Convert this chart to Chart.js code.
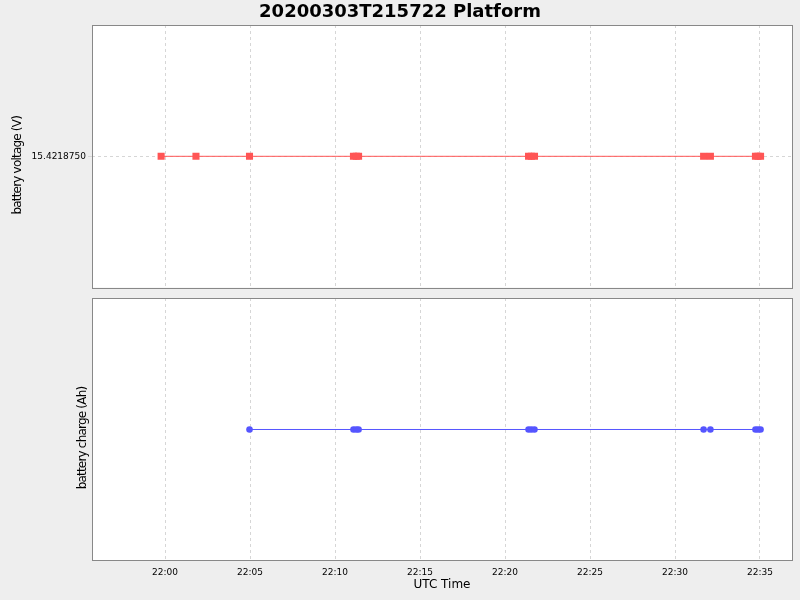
<!DOCTYPE html>
<html>
<head>
<meta charset="utf-8">
<script src="https://cdn.jsdelivr.net/npm/chart.js@4.4.0/dist/chart.umd.min.js"></script>
<style>
  body { margin: 0; background: #eeeeee; }
  #wrap { position: relative; width: 800px; height: 600px; background: #eeeeee; }
  #title { position: absolute; left: 0; top: 0; width: 800px; height: 25px; line-height: 25px;
           text-align: center; font: bold 18px "DejaVu Sans", sans-serif; color: #000; }
  canvas { position: absolute; left: 0; }
  #voltChart { top: 0; }
  #chargeChart { top: 290px; }
</style>
</head>
<body>
<div id="wrap">
  <canvas id="voltChart" width="800" height="295"></canvas>
  <canvas id="chargeChart" width="800" height="310"></canvas>
  <div id="title">20200303T215722 Platform</div>
</div>
<script>
// data (times are UTC, 2020-03-03)
var voltageTimes = ['21:59:46','22:01:49','22:04:58','22:11:05','22:11:15','22:11:23',
                    '22:21:23','22:21:33','22:21:44','22:31:41','22:32:05',
                    '22:34:44','22:34:53','22:35:02'];
var voltageValues = [15.421875,15.421875,15.421875,15.421875,15.421875,15.421875,
                     15.421875,15.421875,15.421875,15.421875,15.421875,
                     15.421875,15.421875,15.421875];
var chargeTimes = ['22:04:58','22:11:05','22:11:15','22:11:23',
                   '22:21:23','22:21:33','22:21:44','22:31:41','22:32:05',
                   '22:34:44','22:34:53','22:35:02'];
var chargeValues = [0,0,0,0,0,0,0,0,0,0,0,0];
var xTickLabels = ['22:00','22:05','22:10','22:15','22:20','22:25','22:30','22:35'];
var voltTickValues = [15.421875];
var xStart = '21:55:42';
var xEnd = '22:36:53';

// minutes relative to 22:00
function toMin(s){
    var p = s.split(':');
    return (Number(p[0]) - 22) * 60 + Number(p[1]) + (p.length > 2 ? Number(p[2]) / 60 : 0);
}
function toPoints(times, values){
    var pts = [];
    for (var i = 0; i < times.length; i++) {
        pts.push({x: toMin(times[i]), y: values[i]});
    }
    return pts;
}
function minToLabel(m){
    for (var i = 0; i < xTickLabels.length; i++) {
        if (Math.abs(toMin(xTickLabels[i]) - m) < 1e-6) return xTickLabels[i];
    }
    return '';
}

var FONT = '"DejaVu Sans", sans-serif';
var GRID = '#d6d6d6';

var plotFrame = {
    id: 'plotFrame',
    beforeDraw: function(chart){
        var a = chart.chartArea, ctx = chart.ctx;
        ctx.save();
        ctx.fillStyle = '#ffffff';
        ctx.fillRect(a.left, a.top, a.right - a.left, a.bottom - a.top);
        ctx.restore();
    },
    afterDraw: function(chart){
        var a = chart.chartArea, ctx = chart.ctx;
        var l = Math.round(a.left), t = Math.round(a.top);
        var r = Math.round(a.right), b = Math.round(a.bottom);
        ctx.save();
        ctx.strokeStyle = '#888888';
        ctx.lineWidth = 1;
        ctx.strokeRect(l + 0.5, t + 0.5, r - l, b - t);
        ctx.restore();
    }
};

// the java-ish rotated axis title sits a bit lower and tighter than chart.js puts it
function shiftTitle(scale){
    scale.width = 92;
    if (!scale._shifted) {
        var orig = scale.drawTitle;
        scale.drawTitle = function(){
            var ctx = this.ctx;
            ctx.save();
            ctx.translate(0, 9);
            ctx.letterSpacing = '-0.8px';
            orig.apply(this, arguments);
            ctx.restore();
        };
        scale._shifted = true;
    }
}

function xAxis(showLabels){
    return {
        type: 'linear',
        min: toMin(xStart),
        max: toMin(xEnd),
        afterBuildTicks: function(scale){
            scale.ticks = xTickLabels.map(function(t){ return {value: toMin(t)}; });
        },
        afterFit: function(scale){ scale.height = showLabels ? 40 : 0; },
        grid: {color: GRID, drawTicks: false},
        border: {display: false, dash: [3, 3]},
        ticks: {
            display: showLabels,
            padding: 7,
            maxRotation: 0,
            autoSkip: false,
            color: '#000',
            font: {family: FONT, size: 9},
            callback: function(v){ return minToLabel(v); }
        },
        title: {
            display: showLabels,
            text: 'UTC Time',
            color: '#000',
            font: {family: FONT, size: 12},
            padding: {top: 0, bottom: 8}
        }
    };
}

Chart.defaults.animation = false;

new Chart(document.getElementById('voltChart'), {
    type: 'scatter',
    data: {
        datasets: [{
            data: toPoints(voltageTimes, voltageValues),
            showLine: true,
            borderColor: '#ff5555',
            borderWidth: 1,
            backgroundColor: '#ff5555',
            pointStyle: 'rect',
            pointRadius: 5,
            pointBorderWidth: 0
        }]
    },
    options: {
        responsive: false,
        layout: {padding: {top: 25, right: 8, bottom: 0, left: 0}},
        plugins: {legend: {display: false}, tooltip: {enabled: false}},
        scales: {
            x: xAxis(false),
            y: {
                min: 15.421875 - 1,
                max: 15.421875 + 1,
                afterBuildTicks: function(scale){
                    scale.ticks = voltTickValues.map(function(v){ return {value: v}; });
                },
                afterFit: shiftTitle,
                grid: {color: GRID, tickLength: 4},
                border: {display: false, dash: [3, 3]},
                ticks: {
                    padding: 2,
                    color: '#000',
                    font: {family: FONT, size: 9},
                    callback: function(v){ return Number(v).toFixed(7); }
                },
                title: {
                    display: true,
                    text: 'battery voltage (V)',
                    color: '#000',
                    font: {family: FONT, size: 12},
                    padding: {top: 11, bottom: 0}
                }
            }
        }
    },
    plugins: [plotFrame]
});

new Chart(document.getElementById('chargeChart'), {
    type: 'scatter',
    data: {
        datasets: [{
            data: toPoints(chargeTimes, chargeValues),
            showLine: true,
            borderColor: '#5555ff',
            borderWidth: 1,
            backgroundColor: '#5555ff',
            pointStyle: 'circle',
            pointRadius: 3.3,
            pointBorderWidth: 0
        }]
    },
    options: {
        responsive: false,
        layout: {padding: {top: 8, right: 8, bottom: 0, left: 0}},
        plugins: {legend: {display: false}, tooltip: {enabled: false}},
        scales: {
            x: xAxis(true),
            y: {
                min: -0.9962,
                max: 1.0038,
                afterFit: shiftTitle,
                grid: {display: false},
                border: {display: false},
                ticks: {display: false},
                title: {
                    display: true,
                    text: 'battery charge (Ah)',
                    color: '#000',
                    font: {family: FONT, size: 12},
                    padding: {top: 76, bottom: 0}
                }
            }
        }
    },
    plugins: [plotFrame]
});
</script>
</body>
</html>
